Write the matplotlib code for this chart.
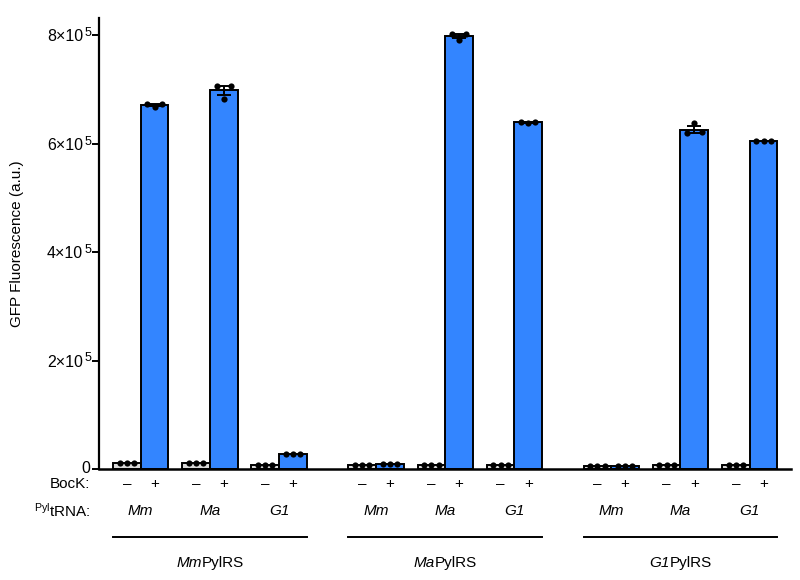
import matplotlib
matplotlib.use("Agg")
import matplotlib.pyplot as plt
from matplotlib.offsetbox import TextArea, HPacker, AnnotationBbox
from matplotlib.transforms import offset_copy
import numpy as np

plt.rcParams['font.family'] = ['Liberation Sans', 'DejaVu Sans']
plt.rcParams['mathtext.fontset'] = 'custom'
plt.rcParams['mathtext.rm'] = 'Liberation Sans'
plt.rcParams['mathtext.it'] = 'Liberation Sans:italic'

# ---- data (values in units of 1e3 a.u.) ----
synthetases = ['Mm', 'Ma', 'G1']          # PylRS groups
trnas = ['Mm', 'Ma', 'G1']                # tRNA within each group
# replicates, order: synthetase x tRNA
minus_reps = [
    [[11, 11, 11], [11, 11, 11], [7, 7, 7]],
    [[7, 7, 7], [8, 8, 8], [7, 7, 7]],
    [[5, 5, 5], [7, 7, 7], [7, 7, 7]],
]
plus_reps = [
    [[673, 667, 673], [706, 682, 707], [27, 27, 27]],
    [[9, 9, 9], [803, 792, 803], [641, 638, 641]],
    [[5, 5, 5], [619, 638, 621], [605, 605, 605]],
]
yticks = [0, 2e5, 4e5, 6e5, 8e5]
ytick_mantissa = ['0', '2×10', '4×10', '6×10', '8×10']
ytick_exponent = ['', '5', '5', '5', '5']

gray = '#d9d9d9'
blue = '#3385ff'
FS = 11

fig = plt.figure(figsize=(8, 5.8), dpi=100)
ax = fig.add_axes([0.124, 0.1914, 0.865, 0.7776])
xt = ax.get_xaxis_transform()
yt = ax.get_yaxis_transform()

pair_step = 2.5
group_step = 8.5
dot_off = np.array([-0.26, 0.0, 0.26])

for gi, syn in enumerate(synthetases):
    for ti, tr in enumerate(trnas):
        x0 = gi * group_step + ti * pair_step
        for k, (reps, col) in enumerate([(minus_reps[gi][ti], gray), (plus_reps[gi][ti], blue)]):
            vals = np.array(reps) * 1e3
            m = vals.mean()
            sem = vals.std(ddof=1) / np.sqrt(len(vals))
            xc = x0 + k
            ax.bar(xc, m, width=1.0, color=col, edgecolor='black', linewidth=1.4, zorder=2)
            if sem > 0:
                ax.errorbar(xc, m, yerr=sem, color='black', capsize=5, elinewidth=1.4,
                            capthick=1.4, zorder=3)
            ax.scatter(xc + dot_off, vals, s=20, color='black', zorder=4, linewidths=0)
            ax.text(xc, -0.034, '–' if k == 0 else '+', transform=xt,
                    ha='center', va='center', fontsize=FS)
        ax.text(x0 + 0.5, -0.093, tr, transform=xt, ha='center',
                va='center', fontsize=FS, style='italic')
    gl = gi * group_step - 0.5
    gr = gi * group_step + 2 * pair_step + 1.5
    ax.plot([gl, gr], [-0.150, -0.150], transform=xt, color='black',
            linewidth=1.4, clip_on=False)
    box = HPacker(children=[TextArea(syn, textprops=dict(style='italic', fontsize=FS)),
                            TextArea('PylRS', textprops=dict(fontsize=FS))],
                  align='baseline', pad=0, sep=0)
    ab = AnnotationBbox(box, ((gl + gr) / 2, -0.208), xycoords=xt, frameon=False,
                        box_alignment=(0.5, 0.5), annotation_clip=False, pad=0)
    ax.add_artist(ab)

ax.text(-0.013, -0.034, 'BocK:', transform=ax.transAxes, ha='right', va='center', fontsize=FS)
ax.text(-0.013, -0.093, r'$^{\mathrm{Pyl}}$tRNA:', transform=ax.transAxes, ha='right', va='center', fontsize=FS)

ax.set_xlim(-1.0, 24.0)
ax.set_ylim(0, 8.32e5)
ax.set_yticks(yticks)
ax.set_yticklabels([])
ax.set_xticks([])

# tick labels: mantissa + raised exponent
for v, man, ex in zip(yticks, ytick_mantissa, ytick_exponent):
    if ex:
        ax.text(0, v, man, transform=offset_copy(yt, fig=fig, x=-16, y=-6.0, units='dots'),
                ha='right', va='baseline', fontsize=11.5)
        ax.text(0, v, ex, transform=offset_copy(yt, fig=fig, x=-15, y=-0.8, units='dots'),
                ha='left', va='baseline', fontsize=9)
    else:
        ax.text(0, v, man, transform=offset_copy(yt, fig=fig, x=-9, y=0, units='dots'),
                ha='right', va='center', fontsize=11.5)

ax.spines['top'].set_visible(False)
ax.spines['right'].set_visible(False)
ax.spines['left'].set_linewidth(1.6)
ax.spines['bottom'].set_linewidth(1.8)
ax.tick_params(axis='y', length=5, width=1.4, pad=1)
ax.set_ylabel('GFP Fluorescence (a.u.)', fontsize=FS)
ax.yaxis.set_label_coords(-0.108, 0.5)

fig.savefig('out.png', dpi=100)
